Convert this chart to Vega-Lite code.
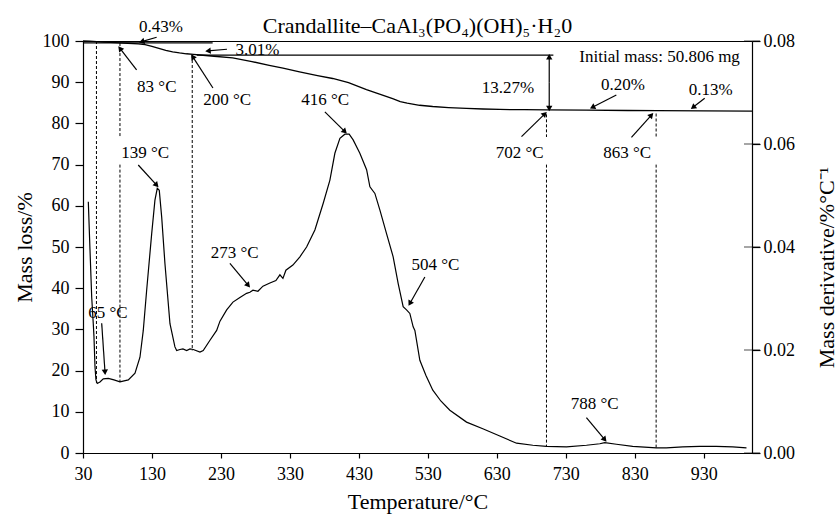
{
  "$schema": "https://vega.github.io/schema/vega-lite/v6.json",
  "width": 669,
  "height": 412,
  "autosize": {"type": "none"},
  "padding": {"left": 83, "top": 41, "right": 86, "bottom": 62},
  "background": "white",
  "title": {
    "text": "Crandallite–CaAl₃(PO₄)(OH)₅·H₂0",
    "font": "Liberation Serif",
    "fontSize": 22,
    "fontWeight": "normal",
    "color": "black",
    "anchor": "middle",
    "offset": -20
  },
  "datasets": {
    "tg": [
      {"t": 30, "m": 100}, {"t": 40, "m": 99.95}, {"t": 50, "m": 99.85}, {"t": 60, "m": 99.75},
      {"t": 70, "m": 99.65}, {"t": 83, "m": 99.55}, {"t": 95, "m": 99.45}, {"t": 110, "m": 99.3},
      {"t": 120, "m": 99.1}, {"t": 130, "m": 98.7}, {"t": 140, "m": 98.2}, {"t": 150, "m": 97.7},
      {"t": 160, "m": 97.35}, {"t": 170, "m": 97.1}, {"t": 180, "m": 96.9}, {"t": 190, "m": 96.75},
      {"t": 200, "m": 96.6}, {"t": 220, "m": 96.3}, {"t": 247, "m": 95.9}, {"t": 275, "m": 95.0},
      {"t": 300, "m": 94.1}, {"t": 320, "m": 93.4}, {"t": 344, "m": 92.5}, {"t": 370, "m": 91.6},
      {"t": 392, "m": 90.9}, {"t": 415, "m": 89.9}, {"t": 441, "m": 88.2}, {"t": 460, "m": 87.1},
      {"t": 479, "m": 86.0}, {"t": 490, "m": 85.3}, {"t": 500, "m": 84.9}, {"t": 518, "m": 84.4},
      {"t": 537, "m": 84.1}, {"t": 560, "m": 83.85}, {"t": 586, "m": 83.65}, {"t": 610, "m": 83.5},
      {"t": 634, "m": 83.38}, {"t": 670, "m": 83.32}, {"t": 702, "m": 83.29}, {"t": 760, "m": 83.2},
      {"t": 820, "m": 83.13}, {"t": 863, "m": 83.09}, {"t": 930, "m": 83.02}, {"t": 1000, "m": 82.96}
    ],
    "dtg": [
      {"t": 37.7, "d": 0.0488}, {"t": 40.1, "d": 0.0396}, {"t": 42.6, "d": 0.0303}, {"t": 44.9, "d": 0.0251},
      {"t": 45.9, "d": 0.0226}, {"t": 47.4, "d": 0.0167}, {"t": 48.8, "d": 0.0142}, {"t": 50.7, "d": 0.0135},
      {"t": 54.6, "d": 0.0138}, {"t": 59.4, "d": 0.0144}, {"t": 66.7, "d": 0.0145}, {"t": 74.9, "d": 0.0142},
      {"t": 83.6, "d": 0.0138}, {"t": 95.7, "d": 0.0142}, {"t": 105.4, "d": 0.0155}, {"t": 112.6, "d": 0.0186},
      {"t": 117.4, "d": 0.0238}, {"t": 122.3, "d": 0.0316}, {"t": 129.6, "d": 0.0426}, {"t": 134.3, "d": 0.0491},
      {"t": 137.7, "d": 0.0514}, {"t": 140.6, "d": 0.051}, {"t": 144.1, "d": 0.0458}, {"t": 148.8, "d": 0.0368},
      {"t": 156.1, "d": 0.0251}, {"t": 163.3, "d": 0.0206}, {"t": 165.8, "d": 0.0199}, {"t": 170.6, "d": 0.0201},
      {"t": 174.9, "d": 0.0202}, {"t": 180.3, "d": 0.0199}, {"t": 185.1, "d": 0.0202}, {"t": 189.9, "d": 0.0201},
      {"t": 199.6, "d": 0.0196}, {"t": 204.3, "d": 0.0199}, {"t": 214.1, "d": 0.0219}, {"t": 223.8, "d": 0.0238},
      {"t": 228.6, "d": 0.0256}, {"t": 238.3, "d": 0.0278}, {"t": 247.4, "d": 0.0293}, {"t": 257.5, "d": 0.0302},
      {"t": 267.2, "d": 0.031}, {"t": 272, "d": 0.0312}, {"t": 276.4, "d": 0.0316}, {"t": 283.6, "d": 0.0314},
      {"t": 290.9, "d": 0.0324}, {"t": 301, "d": 0.033}, {"t": 309.7, "d": 0.0335}, {"t": 315.5, "d": 0.0346},
      {"t": 319.9, "d": 0.0339}, {"t": 324.2, "d": 0.0355}, {"t": 334.3, "d": 0.0365}, {"t": 344.5, "d": 0.0381},
      {"t": 354.2, "d": 0.04}, {"t": 366.2, "d": 0.0433}, {"t": 378.3, "d": 0.0485}, {"t": 388, "d": 0.053},
      {"t": 395.2, "d": 0.0582}, {"t": 402.5, "d": 0.0611}, {"t": 409.7, "d": 0.0619}, {"t": 415.9, "d": 0.0619},
      {"t": 421.7, "d": 0.0608}, {"t": 431.4, "d": 0.0582}, {"t": 441.2, "d": 0.055}, {"t": 446, "d": 0.0517},
      {"t": 453.2, "d": 0.0504}, {"t": 460.4, "d": 0.0472}, {"t": 470.1, "d": 0.0426}, {"t": 479.7, "d": 0.0381},
      {"t": 487, "d": 0.0329}, {"t": 494.2, "d": 0.0284}, {"t": 499.1, "d": 0.0278}, {"t": 503.9, "d": 0.0271},
      {"t": 508.7, "d": 0.0245}, {"t": 511.2, "d": 0.0238}, {"t": 518.4, "d": 0.018}, {"t": 527.1, "d": 0.0151},
      {"t": 537.2, "d": 0.0122}, {"t": 548.8, "d": 0.0101}, {"t": 561.9, "d": 0.0083}, {"t": 586.1, "d": 0.006},
      {"t": 609.7, "d": 0.0047}, {"t": 634.3, "d": 0.0033}, {"t": 658.6, "d": 0.0019}, {"t": 682.2, "d": 0.0015},
      {"t": 702, "d": 0.0013}, {"t": 731, "d": 0.0012}, {"t": 760, "d": 0.0015}, {"t": 779.3, "d": 0.0018},
      {"t": 786.5, "d": 0.002}, {"t": 803.4, "d": 0.0017}, {"t": 827, "d": 0.0013}, {"t": 861.4, "d": 0.001},
      {"t": 875.8, "d": 0.001}, {"t": 899.6, "d": 0.0012}, {"t": 924, "d": 0.0013}, {"t": 948, "d": 0.0013},
      {"t": 972, "d": 0.0012}, {"t": 992, "d": 0.001}
    ],
    "labels": [
      {"t": 143, "m": 103.4, "text": "0.43%"},
      {"t": 283, "m": 97.8, "text": "3.01%"},
      {"t": 137, "m": 88.8, "text": "83 °C"},
      {"t": 239, "m": 85.7, "text": "200 °C"},
      {"t": 381, "m": 85.7, "text": "416 °C"},
      {"t": 120, "m": 72.8, "text": "139 °C"},
      {"t": 250, "m": 48.5, "text": "273 °C"},
      {"t": 541, "m": 45.6, "text": "504 °C"},
      {"t": 66, "m": 33.9, "text": "65 °C"},
      {"t": 663, "m": 72.8, "text": "702 °C"},
      {"t": 819, "m": 72.8, "text": "863 °C"},
      {"t": 646, "m": 88.6, "text": "13.27%"},
      {"t": 813, "m": 89.3, "text": "0.20%"},
      {"t": 940, "m": 88.1, "text": "0.13%"},
      {"t": 866, "m": 96.1, "text": "Initial mass: 50.806 mg"},
      {"t": 772, "m": 11.8, "text": "788 °C"}
    ],
    "arrows": [
      {"t": 136.8, "m": 100.9, "t2": 115.1, "m2": 99.85},
      {"t": 238.7, "m": 98.0, "t2": 211.2, "m2": 97.6},
      {"t": 107.7, "m": 93.0, "t2": 83.6, "m2": 98.2},
      {"t": 218.4, "m": 88.6, "t2": 189, "m2": 96.2},
      {"t": 380.7, "m": 82.8, "t2": 409.7, "m2": 78.0},
      {"t": 110.1, "m": 69.9, "t2": 136.8, "m2": 65.0},
      {"t": 243, "m": 46.0, "t2": 269.6, "m2": 40.7},
      {"t": 525.7, "m": 42.7, "t2": 503.9, "m2": 36.3},
      {"t": 57.1, "m": 31.5, "t2": 61.9, "m2": 19.6},
      {"t": 665.8, "m": 76.8, "t2": 699.6, "m2": 82.3},
      {"t": 825.2, "m": 76.6, "t2": 854.2, "m2": 82.0},
      {"t": 803.3, "m": 86.9, "t2": 768.6, "m2": 83.9},
      {"t": 931.4, "m": 86.1, "t2": 914.5, "m2": 83.9},
      {"t": 759.9, "m": 8.6, "t2": 786.5, "m2": 3.25},
      {"t": 706, "m": 90, "t2": 706, "m2": 96.2},
      {"t": 706, "m": 90, "t2": 706, "m2": 83.6}
    ],
    "dashes": [
      {"t": 49.5, "m": 100, "m2": 17},
      {"t": 83.6, "m": 99.5, "m2": 76.7},
      {"t": 83.6, "m": 70, "m2": 17.2},
      {"t": 188.4, "m": 96.6, "m2": 24.9},
      {"t": 702, "m": 82.2, "m2": 76.7},
      {"t": 702, "m": 70, "m2": 1.6},
      {"t": 861, "m": 82.4, "m2": 76.7},
      {"t": 861, "m": 70, "m2": 1.1}
    ],
    "hlines": [
      {"t": 30, "t2": 218, "m": 99.55},
      {"t": 195, "t2": 712, "m": 96.56}
    ],
    "rticks": [
      {"d": 0}, {"d": 0.02}, {"d": 0.04}, {"d": 0.06}, {"d": 0.08}
    ]
  },
  "layer": [
    {
      "layer": [
        {
          "data": {"name": "tg"},
          "mark": {"type": "line", "color": "black", "strokeWidth": 1.3},
          "encoding": {
            "x": {
              "field": "t", "type": "quantitative",
              "scale": {"domain": [30, 1000], "nice": false, "zero": false},
              "axis": {
                "title": "Temperature/°C",
                "values": [30, 130, 230, 330, 430, 530, 630, 730, 830, 930],
                "tickSize": 5, "labelPadding": 7, "titlePadding": 8
              }
            },
            "y": {
              "field": "m", "type": "quantitative",
              "scale": {"domain": [0, 100], "nice": false, "zero": false},
              "axis": {
                "title": "Mass loss/%", "orient": "left",
                "values": [0, 10, 20, 30, 40, 50, 60, 70, 80, 90, 100],
                "tickSize": 8, "labelPadding": 6, "titlePadding": 6
              }
            }
          }
        },
        {
          "data": {"name": "hlines"},
          "mark": {"type": "rule", "color": "black", "strokeWidth": 1.2},
          "encoding": {
            "x": {"field": "t", "type": "quantitative"},
            "x2": {"field": "t2"},
            "y": {"field": "m", "type": "quantitative"}
          }
        },
        {
          "data": {"name": "dashes"},
          "mark": {"type": "rule", "color": "black", "strokeWidth": 1, "strokeDash": [3, 2]},
          "encoding": {
            "x": {"field": "t", "type": "quantitative"},
            "y": {"field": "m", "type": "quantitative"},
            "y2": {"field": "m2"}
          }
        },
        {
          "data": {"name": "arrows"},
          "mark": {"type": "rule", "color": "black", "strokeWidth": 1.2},
          "encoding": {
            "x": {"field": "t", "type": "quantitative"},
            "x2": {"field": "t2"},
            "y": {"field": "m", "type": "quantitative"},
            "y2": {"field": "m2"}
          }
        },
        {
          "data": {"name": "arrows"},
          "transform": [
            {"calculate": "atan2((datum.t2 - datum.t) * 0.6897, (datum.m2 - datum.m) * 4.12) * 180 / PI", "as": "ang"}
          ],
          "mark": {"type": "point", "shape": "triangle-up", "filled": true, "color": "black", "size": 40, "opacity": 1},
          "encoding": {
            "x": {"field": "t2", "type": "quantitative"},
            "y": {"field": "m2", "type": "quantitative"},
            "angle": {"field": "ang", "type": "quantitative", "scale": null}
          }
        },
        {
          "data": {"name": "labels"},
          "mark": {"type": "text", "font": "Liberation Serif", "fontSize": 17, "color": "black", "align": "center", "baseline": "middle"},
          "encoding": {
            "x": {"field": "t", "type": "quantitative"},
            "y": {"field": "m", "type": "quantitative"},
            "text": {"field": "text"}
          }
        }
      ]
    },
    {
      "layer": [
        {
          "data": {"name": "dtg"},
          "mark": {"type": "line", "color": "black", "strokeWidth": 1.2},
          "encoding": {
            "x": {"field": "t", "type": "quantitative"},
            "y": {
              "field": "d", "type": "quantitative",
              "scale": {"domain": [0, 0.08], "nice": false, "zero": false},
              "axis": {
                "title": "Mass derivative/%°C⁻¹", "orient": "right",
                "values": [0, 0.02, 0.04, 0.06, 0.08], "format": ".2f",
                "tickSize": 8, "labelPadding": 3,
                "titleAngle": 270, "titleBaseline": "top", "titlePadding": 22, "titleY": 226
              }
            }
          }
        },
        {
          "data": {"name": "rticks"},
          "mark": {"type": "tick", "orient": "horizontal", "size": 16, "thickness": 1, "color": "black"},
          "encoding": {
            "x": {"datum": 1000, "type": "quantitative"},
            "y": {"field": "d", "type": "quantitative"}
          }
        }
      ]
    }
  ],
  "resolve": {"scale": {"y": "independent"}},
  "config": {
    "view": {"stroke": "black", "strokeWidth": 1},
    "axis": {
      "grid": false,
      "labelFont": "Liberation Serif",
      "labelFontSize": 18,
      "labelColor": "black",
      "labelFlush": false,
      "labelOverlap": false,
      "titleFont": "Liberation Serif",
      "titleFontSize": 22,
      "titleFontWeight": "normal",
      "titleColor": "black",
      "domainColor": "black",
      "domainWidth": 1.2,
      "tickColor": "black",
      "tickWidth": 1.2
    }
  }
}
